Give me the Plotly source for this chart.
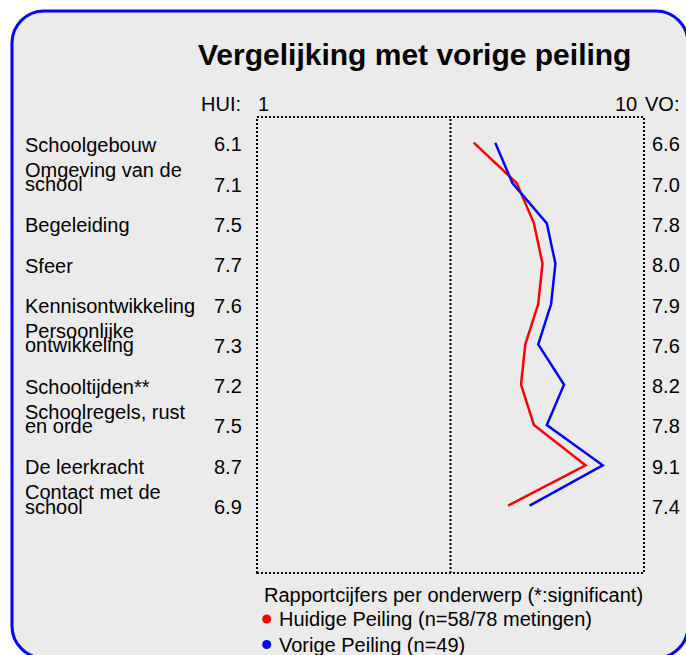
import plotly.graph_objects as go

# ---------------- data ----------------
categories = [
    "Schoolgebouw",
    "Omgeving van de<br>school",
    "Begeleiding",
    "Sfeer",
    "Kennisontwikkeling",
    "Persoonlijke<br>ontwikkeling",
    "Schooltijden**",
    "Schoolregels, rust<br>en orde",
    "De leerkracht",
    "Contact met de<br>school",
]
huidig = [6.1, 7.1, 7.5, 7.7, 7.6, 7.3, 7.2, 7.5, 8.7, 6.9]
vorig = [6.6, 7.0, 7.8, 8.0, 7.9, 7.6, 8.2, 7.8, 9.1, 7.4]
scale_min_label = "1"
scale_max_label = "10"
title_text = "Vergelijking met vorige peiling"
hui_label = "HUI:"
vo_label = "VO:"
legend_title = "Rapportcijfers per onderwerp (*:significant)"
series_names = ["Huidige Peiling (n=58/78 metingen)", "Vorige Peiling (n=49)"]
series_colors = ["#ff0000", "#0000ff"]

# ---------------- layout geometry (pixels) ----------------
W, H = 686, 655
PL, PR, PT, PB = 257, 644, 117, 573
FONT = "Liberation Sans, Arial, sans-serif"


def px(x):
    return (x - PL) / (PR - PL)


def py(y):
    return (PB - y) / (PB - PT)


fig = go.Figure()

# lines: red first, blue on top
fig.add_trace(go.Scatter(x=huidig, y=categories, mode="lines",
                         line=dict(color=series_colors[0], width=2.5),
                         name=series_names[0], showlegend=False, hoverinfo="skip"))
fig.add_trace(go.Scatter(x=vorig, y=categories, mode="lines",
                         line=dict(color=series_colors[1], width=2.5),
                         name=series_names[1], showlegend=False, hoverinfo="skip"))

annotations = []


def txt(text, x, y, xanchor="left", yref="paper", yshift=0, size=20, color="#000000"):
    annotations.append(dict(text=text, x=x, y=y, xref="paper", yref=yref,
                            xanchor=xanchor, yanchor="middle", yshift=yshift,
                            showarrow=False, font=dict(family=FONT, size=size, color=color)))


# category labels and values
for cat, h, v in zip(categories, huidig, vorig):
    lines = cat.split("<br>")
    if len(lines) == 1:
        txt(lines[0], px(23), cat, yref="y", yshift=-2)
    else:
        txt(lines[0], px(23), cat, yref="y", yshift=13.3)
        txt(lines[1], px(23), cat, yref="y", yshift=-1)
    txt(f"{h:.1f}", px(244), cat, xanchor="right", yref="y", yshift=-1.5)
    txt(f"{v:.1f}", px(650), cat, xanchor="left", yref="y", yshift=-1.5)

# title and header
txt("<b>" + title_text + "</b>", px(414.5), py(55), xanchor="center", size=30)
txt(hui_label, px(199), py(104))
txt(scale_min_label, px(256), py(104))
txt(scale_max_label, px(638.5), py(104), xanchor="right")
txt(vo_label, px(643), py(104))

# legend
txt(legend_title, px(262), py(595))
txt(series_names[0], px(276.5), py(619))
txt(series_names[1], px(276.5), py(645))

shapes = []

# rounded border
x0, y0, x1, y1, r = 12, 11, 688, 658, 32
k = 0.5523 * r


def P(x, y):
    return f"{px(x):.5f},{py(y):.5f}"


path = (
    f"M {P(x0 + r, y0)} L {P(x1 - r, y0)} "
    f"C {P(x1 - r + k, y0)} {P(x1, y0 + r - k)} {P(x1, y0 + r)} "
    f"L {P(x1, y1 - r)} "
    f"C {P(x1, y1 - r + k)} {P(x1 - r + k, y1)} {P(x1 - r, y1)} "
    f"L {P(x0 + r, y1)} "
    f"C {P(x0 + r - k, y1)} {P(x0, y1 - r + k)} {P(x0, y1 - r)} "
    f"L {P(x0, y0 + r)} "
    f"C {P(x0, y0 + r - k)} {P(x0 + r - k, y0)} {P(x0 + r, y0)} Z"
)
shapes.append(dict(type="path", path=path, xref="paper", yref="paper",
                   fillcolor="#ebebeb", line=dict(color="#0000ff", width=3), layer="below"))

# dotted plot box and middle line
shapes.append(dict(type="rect", xref="paper", yref="paper", x0=0, x1=1, y0=0, y1=1,
                   line=dict(color="#000000", width=2, dash="2px,2px"), layer="above"))
shapes.append(dict(type="line", xref="paper", yref="paper", x0=0.5, x1=0.5, y0=0, y1=1,
                   line=dict(color="#000000", width=2, dash="2px,2px"), layer="above"))

# legend dots
for cy, col in [(619, series_colors[0]), (644.5, series_colors[1])]:
    shapes.append(dict(type="circle", xref="paper", yref="paper",
                       xsizemode="pixel", ysizemode="pixel",
                       xanchor=px(266.7), yanchor=py(cy),
                       x0=-4.5, x1=4.5, y0=-4.5, y1=4.5,
                       fillcolor=col, line=dict(color=col, width=0)))

fig.update_layout(
    width=W, height=H, autosize=False,
    margin=dict(l=PL, r=W - PR, t=PT, b=H - PB, pad=0),
    paper_bgcolor="#ffffff", plot_bgcolor="rgba(0,0,0,0)",
    xaxis=dict(range=[1.06, 10.06], visible=False, fixedrange=True),
    yaxis=dict(type="category", categoryorder="array", categoryarray=categories,
               range=[10.67, -0.637], visible=False, fixedrange=True),
    annotations=annotations, shapes=shapes, showlegend=False,
    font=dict(family=FONT),
)

fig.write_html(
    "out.html",
    config={"displayModeBar": False},
    post_script="document.body.style.margin='0';document.body.style.padding='0';"
                "document.body.style.overflow='hidden';",
)
